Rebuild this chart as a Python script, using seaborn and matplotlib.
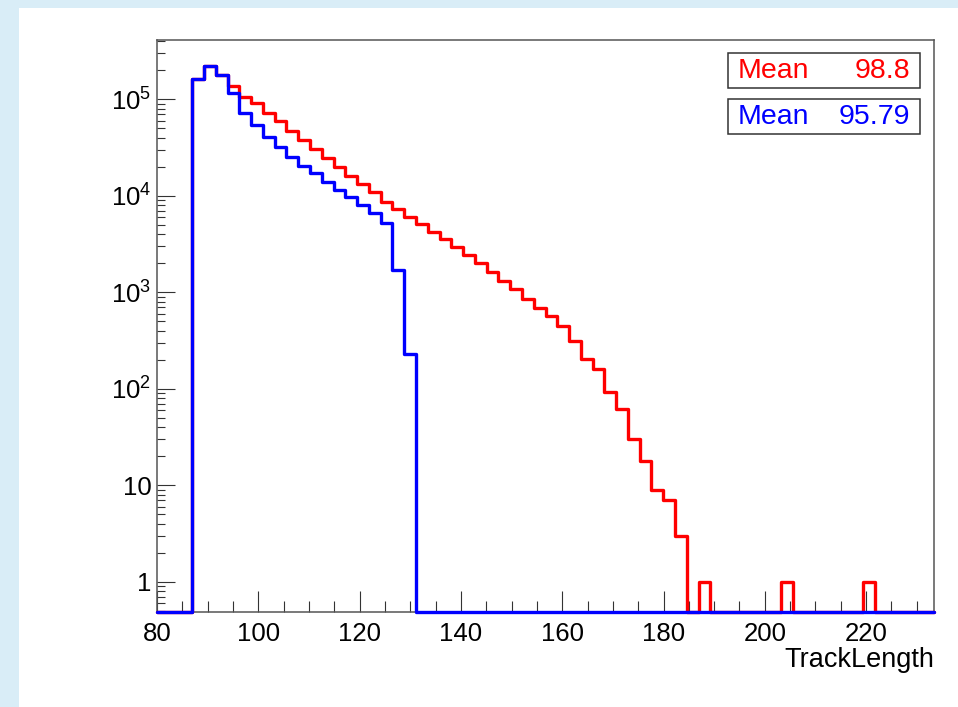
import numpy as np
import pandas as pd
import matplotlib
matplotlib.use("Agg")
import matplotlib.pyplot as plt
import seaborn as sns
from matplotlib.ticker import FixedLocator, LogLocator, NullFormatter, MultipleLocator
from matplotlib.patches import Rectangle

# binning of the TrackLength histograms (66 bins, 80 -> 233.4)
x_lo, x_hi, n_bins = 80.0, 233.4, 66
first_bin = 3

# bin contents, starting at first_bin
red_counts = [1.61e5, 2.21e5, 1.77e5, 1.37e5, 1.06e5, 9.09e4, 7.26e4, 5.96e4,
              4.73e4, 3.79e4, 3.03e4, 2.48e4, 1.97e4, 1.58e4, 1.31e4, 1.10e4,
              8690, 7240, 6070, 5070, 4250, 3540, 2970, 2440, 2030, 1630,
              1310, 1070, 845, 682, 568, 448, 315, 202, 159, 93, 61, 30, 18,
              9, 7, 3]
red_single_bins = [46, 53, 60]  # isolated bins with one entry
blue_counts = [1.61e5, 2.21e5, 1.77e5, 1.15e5, 7.26e4, 5.42e4, 4.10e4, 3.23e4,
               2.54e4, 2.04e4, 1.71e4, 1.40e4, 1.15e4, 9650, 8030, 6590, 5190,
               1700, 230]

means = ["98.8", "95.79"]
colors = ["#ff0000", "#0000ff"]
x_ticks = [80, 100, 120, 140, 160, 180, 200, 220]
y_ticks = [1, 10, 1e2, 1e3, 1e4, 1e5]
y_labels = ["1", "10", r"$\mathregular{10^{2}}$", r"$\mathregular{10^{3}}$",
            r"$\mathregular{10^{4}}$", r"$\mathregular{10^{5}}$"]
y_lo, y_hi = 0.486, 4.1e5

sns.set_style("white")
plt.rcParams["font.family"] = ["Liberation Sans", "DejaVu Sans"]
plt.rcParams["text.color"] = "black"

W, H = 958, 707
fig = plt.figure(figsize=(W / 100, H / 100), dpi=100)
fig.patch.set_facecolor("white")
fig.add_artist(Rectangle((0, 1 - 8 / H), 1, 8 / H, transform=fig.transFigure,
                         color="#d9edf7", lw=0))
fig.add_artist(Rectangle((0, 0), 19 / W, 1, transform=fig.transFigure,
                         color="#d9edf7", lw=0))

ax = fig.add_axes([157 / W, 1 - 612 / H, (934 - 157) / W, (612 - 40) / H])

edges = np.linspace(x_lo, x_hi, n_bins + 1)
centers = (edges[:-1] + edges[1:]) / 2

red = np.zeros(n_bins)
red[first_bin:first_bin + len(red_counts)] = red_counts
red[red_single_bins] = 1
blue = np.zeros(n_bins)
blue[first_bin:first_bin + len(blue_counts)] = blue_counts

# empty bins are drawn along the bottom of the frame, like ROOT does
for z, (counts, c) in enumerate([(red, colors[0]), (blue, colors[1])]):
    df = pd.DataFrame({"TrackLength": centers,
                       "n": np.where(counts > 0, counts, y_lo)})
    sns.histplot(data=df, x="TrackLength", weights="n", bins=list(edges),
                 element="step", fill=False, color=c, linewidth=2.4,
                 ax=ax, clip_on=False, zorder=3 + z)

ax.set_yscale("log")
ax.set_xlim(x_lo, x_hi)
ax.set_ylim(y_lo, y_hi)

ax.set_xticks(x_ticks)
ax.set_xticklabels([str(t) for t in x_ticks])
ax.xaxis.set_minor_locator(MultipleLocator(5))
ax.yaxis.set_major_locator(FixedLocator(y_ticks))
ax.set_yticklabels(y_labels)
ax.yaxis.set_minor_locator(LogLocator(base=10, subs=np.arange(2, 10), numticks=30))
ax.yaxis.set_minor_formatter(NullFormatter())

ax.tick_params(which="both", direction="in", bottom=True, left=True,
               top=False, right=False, color="#333333", width=0.8,
               labelsize=18.5, labelcolor="black")
ax.tick_params(axis="x", which="major", length=15, pad=7)
ax.tick_params(axis="x", which="minor", length=8)
ax.tick_params(axis="y", which="major", length=13, pad=4)
ax.tick_params(axis="y", which="minor", length=6)

for s in ax.spines.values():
    s.set_visible(True)
    s.set_color("#555555")
    s.set_linewidth(1.1)

ax.set_ylabel("")
ax.set_xlabel("TrackLength", fontsize=19.5, loc="right", labelpad=1, color="black")

# stat boxes with the means
box_tops = [53, 99]
for top, m, c in zip(box_tops, means, colors):
    fig.add_artist(Rectangle((728 / W, 1 - (top + 35) / H), (920 - 728) / W, 35 / H,
                             transform=fig.transFigure, facecolor="white",
                             edgecolor="#333333", lw=1.1))
    yc = 1 - (top + 18) / H
    fig.text(738 / W, yc, "Mean", color=c, fontsize=20.5, ha="left", va="center")
    fig.text(910 / W, yc, m, color=c, fontsize=20.5, ha="right", va="center")

fig.savefig("out.png", dpi=100)
